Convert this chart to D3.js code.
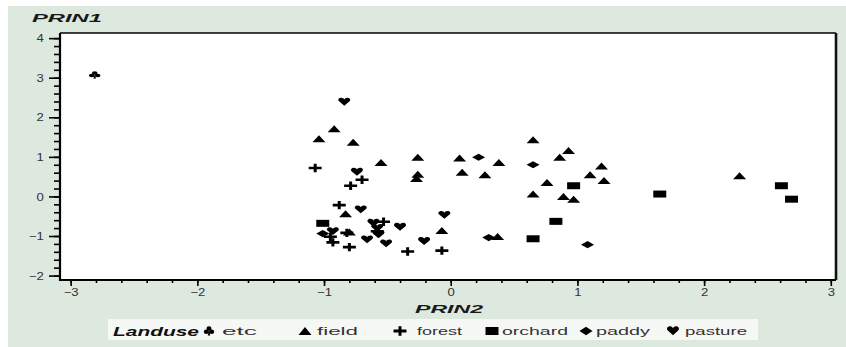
<!DOCTYPE html>
<html>
<head>
<meta charset="utf-8">
<script src="https://cdnjs.cloudflare.com/ajax/libs/d3/7.8.5/d3.min.js"></script>
<style>
  body { margin: 0; background: #fff; }
  svg text { font-family: "Liberation Sans", Arial, sans-serif; }
</style>
</head>
<body>
<svg id="chart" width="846" height="347"></svg>
<script>
// DATA - principal component scores by landuse class, [PRIN2, PRIN1]
var categories = ["etc", "field", "forest", "orchard", "paddy", "pasture"];

var etcPts = [[-2.81, 3.07]];

var fieldPts = [
  [-1.04, 1.46], [-0.92, 1.71], [-0.77, 1.37], [-0.55, 0.86], [-0.26, 0.99],
  [-0.26, 0.56], [-0.27, 0.45], [0.07, 0.97], [0.09, 0.61], [0.27, 0.55],
  [0.38, 0.86], [0.65, 1.43], [0.65, 0.06], [0.76, 0.35], [0.86, 0.99],
  [0.93, 1.16], [0.89, 0.0], [0.97, -0.07], [1.19, 0.77], [1.10, 0.55],
  [1.21, 0.40], [2.28, 0.52], [-0.83, -0.44], [-0.80, -0.90], [-0.07, -0.86],
  [0.37, -1.01]
];

var forestPts = [
  [-1.07, 0.72], [-0.70, 0.42], [-0.79, 0.27], [-0.88, -0.22], [-0.93, -1.16],
  [-0.95, -1.02], [-0.80, -1.28], [-0.53, -0.64], [-0.58, -0.88], [-0.34, -1.39],
  [-0.07, -1.37], [-0.82, -0.92]
];

var orchardPts = [
  [-1.01, -0.68], [0.65, -1.07], [0.97, 0.27], [0.83, -0.63], [1.65, 0.06],
  [2.61, 0.27], [2.69, -0.07]
];

var paddyPts = [[0.22, 0.99], [0.65, 0.80], [1.08, -1.22], [-1.01, -0.94], [0.30, -1.04]];

var pasturePts = [
  [-0.84, 2.39], [-0.74, 0.62], [-0.71, -0.33], [-0.93, -0.88], [-0.66, -1.09],
  [-0.61, -0.67], [-0.57, -0.96], [-0.51, -1.19], [-0.40, -0.77], [-0.21, -1.13],
  [-0.05, -0.47], [-0.58, -0.80]
];

var xTicks = [-3, -2, -1, 0, 1, 2, 3];
var yTicks = [-2, -1, 0, 1, 2, 3, 4];

// marker shapes (SAS-like, wide and flat)
var shapes = {
  etc: "M-2.8,-2a2.8,1.8 0 1,0 5.6,0a2.8,1.8 0 1,0 -5.6,0Z" +
       "M-5.8,0.6a2.8,1.8 0 1,0 5.6,0a2.8,1.8 0 1,0 -5.6,0Z" +
       "M0.2,0.6a2.8,1.8 0 1,0 5.6,0a2.8,1.8 0 1,0 -5.6,0Z" +
       "M-1.4,3.6L0,0L1.4,3.6Z",
  field: "M-6.5,3.5L0,-3.5L6.5,3.5Z",
  forest: "M-6.5,-1.3H-1.5V-4.2H1.5V-1.3H6.5V1.3H1.5V4.2H-1.5V1.3H-6.5Z",
  orchard: "M-6.5,-3.5H6.5V3.5H-6.5Z",
  paddy: "M-6.5,0L0,-3.6L6.5,0L0,3.6Z",
  pasture: "M0,3.8L-5.2,-0.5C-7,-2 -5.5,-4.1 -3,-4.1C-1.5,-4.1 -0.5,-3.3 0,-2.3" +
           "C0.5,-3.3 1.5,-4.1 3,-4.1C5.5,-4.1 7,-2 5.2,-0.5Z"
};

var series = [etcPts, fieldPts, forestPts, orchardPts, paddyPts, pasturePts];

var svg = d3.select("#chart");

// plot frame (don't use "top" - clashes with window.top)
var pLeft = 60, pRight = 836, pTop = 33, pBottom = 280;

var x = d3.scaleLinear().domain([-3.084, 3.041]).range([pLeft, pRight]);
var y = d3.scaleLinear().domain([-2.112, 4.13]).range([pBottom, pTop]);

// backgrounds
svg.append("rect").attr("x", 8).attr("y", 6).attr("width", 838).attr("height", 341)
  .attr("fill", "#dde8df");
svg.append("rect").attr("x", pLeft).attr("y", pTop)
  .attr("width", pRight - pLeft).attr("height", pBottom - pTop)
  .attr("fill", "#fff");

/* AXES
============================*/
var xMinor = d3.range(-3, 3.001, 0.2).map(function(d) { return +d.toFixed(1); });
var yMinor = d3.range(-2, 4.001, 0.2).map(function(d) { return +d.toFixed(1); });

// minor ticks first, no labels
svg.append("g").attr("transform", "translate(0," + pBottom + ")")
  .call(d3.axisBottom(x).tickValues(xMinor).tickSize(3).tickFormat(""))
  .call(function(g) { g.select(".domain").remove(); });
svg.append("g").attr("transform", "translate(" + pLeft + ",0)")
  .call(d3.axisLeft(y).tickValues(yMinor).tickSize(6).tickFormat(""))
  .call(function(g) { g.select(".domain").remove(); });

var xAxis = svg.append("g").attr("transform", "translate(0," + pBottom + ")")
  .call(d3.axisBottom(x).tickValues(xTicks).tickSize(6).tickFormat(d3.format("d")));
var yAxis = svg.append("g").attr("transform", "translate(" + pLeft + ",0)")
  .call(d3.axisLeft(y).tickValues(yTicks).tickSize(11).tickFormat(d3.format("d")));

svg.selectAll(".tick line").attr("stroke", "#000").attr("stroke-width", 1.6);
xAxis.select(".domain").remove();
yAxis.select(".domain").remove();

xAxis.selectAll("text")
  .attr("font-size", 10.5).attr("fill", "#333")
  .attr("y", 9).attr("dy", "0.71em")
  .attr("transform", "scale(1.25,1)");
yAxis.selectAll("text")
  .attr("font-size", 10.5).attr("fill", "#333")
  .attr("x", -13).attr("dy", "0.34em")
  .attr("transform", "scale(1.25,1)");

// frame lines
svg.append("line").attr("x1", pLeft).attr("x2", pRight).attr("y1", pTop).attr("y2", pTop)
  .attr("stroke", "#000").attr("stroke-width", 1.3);
svg.append("line").attr("x1", pRight).attr("x2", pRight).attr("y1", pTop).attr("y2", pBottom)
  .attr("stroke", "#111").attr("stroke-width", 2.6);
svg.append("line").attr("x1", pLeft).attr("x2", pLeft).attr("y1", pTop).attr("y2", pBottom + 1)
  .attr("stroke", "#000").attr("stroke-width", 2.2);
svg.append("line").attr("x1", pLeft - 1).attr("x2", pRight).attr("y1", pBottom).attr("y2", pBottom)
  .attr("stroke", "#000").attr("stroke-width", 2.2);

/* POINTS
============================*/
series.forEach(function(pts, i) {
  svg.append("g").selectAll("path")
    .data(pts)
    .enter()
    .append("path")
    .attr("d", shapes[categories[i]])
    .attr("fill", "#000")
    .attr("transform", function(d) {
      return "translate(" + x(d[0]) + "," + y(d[1]) + ")";
    });
});

/* TITLES
============================*/
function title(txt, px, py, len) {
  svg.append("text")
    .attr("x", px).attr("y", py)
    .attr("font-size", 11).attr("font-weight", "bold").attr("font-style", "italic")
    .attr("fill", "#1a1a1a")
    .attr("textLength", len).attr("lengthAdjust", "spacingAndGlyphs")
    .text(txt);
}
title("PRIN1", 32, 22, 70);
title("PRIN2", 415, 313, 68);

/* LEGEND
============================*/
var legendSym = [209, 305, 400, 492, 586, 673];
var legendTxt = [222, 317, 417, 502, 596, 685];
var legendLen = [35, 41, 45, 66, 54, 62];

svg.append("rect").attr("x", 108).attr("y", 319).attr("width", 650).attr("height", 21)
  .attr("fill", "#f6f8f6");

svg.append("text")
  .attr("x", 113).attr("y", 336)
  .attr("font-size", 12.5).attr("font-weight", "bold").attr("font-style", "italic")
  .attr("fill", "#111")
  .attr("textLength", 86).attr("lengthAdjust", "spacingAndGlyphs")
  .text("Landuse");

var leg = svg.append("g").selectAll("g")
  .data(categories)
  .enter()
  .append("g");

leg.append("path")
  .attr("d", function(d) { return shapes[d]; })
  .attr("fill", "#000")
  .attr("transform", function(d, i) {
    return "translate(" + legendSym[i] + ",331) scale(" + (d === "etc" ? "0.9,1.25" : "1,1.15") + ")";
  });

leg.append("text")
  .attr("x", function(d, i) { return legendTxt[i]; })
  .attr("y", 335)
  .attr("font-size", 11)
  .attr("fill", "#333")
  .attr("textLength", function(d, i) { return legendLen[i]; })
  .attr("lengthAdjust", "spacingAndGlyphs")
  .text(function(d) { return d; });
</script>
</body>
</html>
